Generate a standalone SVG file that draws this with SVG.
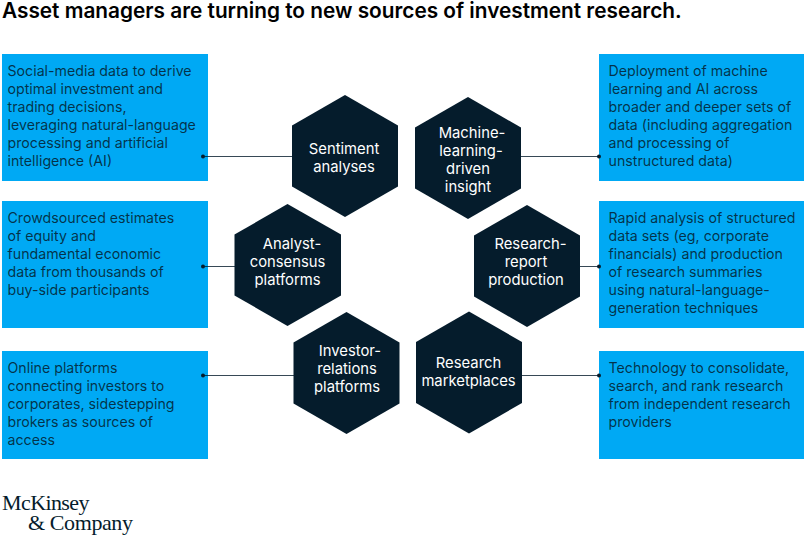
<svg xmlns="http://www.w3.org/2000/svg" width="804" height="539" viewBox="0 0 804 539">
<style>
.box{fill:#00a9f4}
.hex{fill:#051c2c}
.t{font-family:"Inter","Liberation Sans",sans-serif;font-size:14.2px;fill:#051c2c;fill-opacity:.85}
.h{font-family:"Inter","Liberation Sans",sans-serif;font-size:14.8px;fill:#fff;text-anchor:middle}
.title{font-family:"Inter","Liberation Sans",sans-serif;font-size:20.8px;font-weight:600;fill:#000}
.logo{font-family:"Liberation Serif",serif;font-size:22px;fill:#051c2c}
.c{stroke:#051c2c;stroke-width:1;fill:none;opacity:.8}
.d{fill:#051c2c}
</style>
<rect width="804" height="539" fill="#fff"/>
<text id="title" class="title" x="2" y="17.500">Asset managers are turning to new sources of investment research.</text>
<g id="box-social"><rect class="box" x="2" y="54" width="206" height="127"/><text class="t"><tspan x="7.500" y="76">Social-media data to derive</tspan><tspan x="7.500" y="94">optimal investment and</tspan><tspan x="7.500" y="112">trading decisions,</tspan><tspan x="7.500" y="130">leveraging natural-language</tspan><tspan x="7.500" y="148">processing and artificial</tspan><tspan x="7.500" y="166">intelligence (AI)</tspan></text></g>
<g id="box-crowd"><rect class="box" x="2" y="201" width="206" height="127"/><text class="t"><tspan x="7.500" y="223">Crowdsourced estimates</tspan><tspan x="7.500" y="241">of equity and</tspan><tspan x="7.500" y="259">fundamental economic</tspan><tspan x="7.500" y="277">data from thousands of</tspan><tspan x="7.500" y="295">buy-side participants</tspan></text></g>
<g id="box-online"><rect class="box" x="2" y="351" width="206" height="108"/><text class="t"><tspan x="7.500" y="373">Online platforms</tspan><tspan x="7.500" y="391">connecting investors to</tspan><tspan x="7.500" y="409">corporates, sidestepping</tspan><tspan x="7.500" y="427">brokers as sources of</tspan><tspan x="7.500" y="445">access</tspan></text></g>
<g id="box-deploy"><rect class="box" x="599" y="54" width="205" height="127"/><text class="t"><tspan x="608.500" y="76">Deployment of machine</tspan><tspan x="608.500" y="94">learning and AI across</tspan><tspan x="608.500" y="112">broader and deeper sets of</tspan><tspan x="608.500" y="130">data (including aggregation</tspan><tspan x="608.500" y="148">and processing of</tspan><tspan x="608.500" y="166">unstructured data)</tspan></text></g>
<g id="box-rapid"><rect class="box" x="599" y="201" width="205" height="127"/><text class="t"><tspan x="608.500" y="223">Rapid analysis of structured</tspan><tspan x="608.500" y="241">data sets (eg, corporate</tspan><tspan x="608.500" y="259">financials) and production</tspan><tspan x="608.500" y="277">of research summaries</tspan><tspan x="608.500" y="295">using natural-language-</tspan><tspan x="608.500" y="313">generation techniques</tspan></text></g>
<g id="box-tech"><rect class="box" x="599" y="351" width="205" height="108"/><text class="t"><tspan x="608.500" y="373">Technology to consolidate,</tspan><tspan x="608.500" y="391">search, and rank research</tspan><tspan x="608.500" y="409">from independent research</tspan><tspan x="608.500" y="427">providers</tspan></text></g>
<g id="connectors">
<path class="c" d="M203 156.500H292M203 266.500H235M203 375.500H294M521 156.500H599M580 266.500H599M522 375.500H599"/>
<circle class="d" cx="203" cy="156.500" r="2"/><circle class="d" cx="203" cy="266.500" r="2"/><circle class="d" cx="203" cy="375.500" r="2"/>
<circle class="d" cx="599" cy="156.500" r="2"/><circle class="d" cx="599" cy="266.500" r="2"/><circle class="d" cx="599" cy="375.500" r="2"/>
</g>
<g id="hex-sentiment"><polygon class="hex" points="345,95 398,125.500 398,186.500 345,217 292,186.500 292,125.500"/><text class="h"><tspan x="344" y="154">Sentiment</tspan><tspan x="344" y="172">analyses</tspan></text></g>
<g id="hex-machine"><polygon class="hex" points="468,97 521,127.500 521,188.500 468,219 415,188.500 415,127.500"/><text class="h"><tspan x="472" y="138">Machine-</tspan><tspan x="471" y="156">learning-</tspan><tspan x="468" y="174">driven</tspan><tspan x="468" y="192">insight</tspan></text></g>
<g id="hex-analyst"><polygon class="hex" points="287.500,204 341,234.500 341,295.500 287.500,326 234.500,295.500 234.500,234.500"/><text class="h"><tspan x="292" y="249">Analyst-</tspan><tspan x="287.500" y="267">consensus</tspan><tspan x="287.500" y="285">platforms</tspan></text></g>
<g id="hex-report"><polygon class="hex" points="527,205 580,235.500 580,296.500 527,327 474,296.500 474,235.500"/><text class="h"><tspan x="530.500" y="249">Research-</tspan><tspan x="526" y="267">report</tspan><tspan x="526" y="285">production</tspan></text></g>
<g id="hex-investor"><polygon class="hex" points="346.500,312 399.500,342.500 399.500,403.500 346.500,434 293.500,403.500 293.500,342.500"/><text class="h"><tspan x="350" y="356">Investor-</tspan><tspan x="347" y="374">relations</tspan><tspan x="347" y="392">platforms</tspan></text></g>
<g id="hex-marketplaces"><polygon class="hex" points="469,311.500 522,342 522,403 469,433.500 416,403 416,342"/><text class="h"><tspan x="468.500" y="368">Research</tspan><tspan x="468.500" y="386">marketplaces</tspan></text></g>
<g id="logo"><text class="logo" x="2" y="510" letter-spacing="-.6">McKinsey</text><text class="logo" x="28" y="530" letter-spacing="-.4">&amp; Company</text></g>
</svg>
